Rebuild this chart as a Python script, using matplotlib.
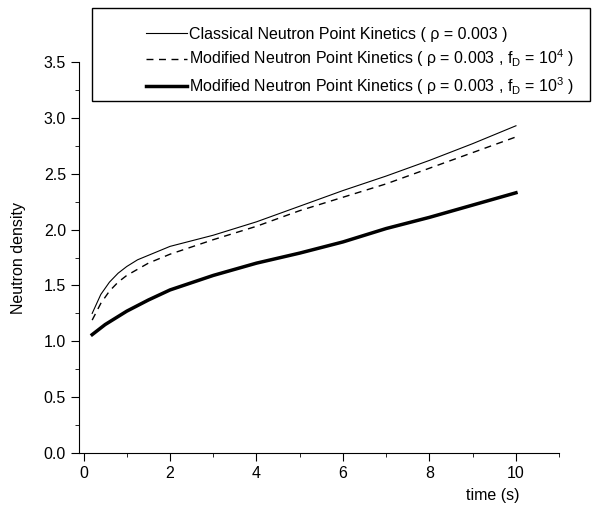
import matplotlib.pyplot as plt
from matplotlib.patches import Rectangle
from matplotlib.ticker import MultipleLocator

plt.rcParams['font.family'] = ['Liberation Sans', 'DejaVu Sans']
plt.rcParams['mathtext.fontset'] = 'custom'
plt.rcParams['mathtext.rm'] = 'Liberation Sans'
plt.rcParams['mathtext.it'] = 'Liberation Sans:italic'

# values
t_classic = [0.2, 0.4, 0.6, 0.8, 1.0, 1.25, 1.5, 2, 3, 4, 5, 6, 7, 8, 9, 10]
n_classic = [1.25, 1.42, 1.53, 1.61, 1.67, 1.73, 1.77, 1.85, 1.95, 2.07, 2.21, 2.35, 2.48, 2.62, 2.77, 2.93]

t_fd4 = [0.2, 0.4, 0.6, 0.8, 1.0, 1.5, 2, 3, 4, 5, 6, 7, 8, 9, 10]
n_fd4 = [1.19, 1.34, 1.45, 1.53, 1.59, 1.70, 1.78, 1.91, 2.03, 2.17, 2.29, 2.41, 2.55, 2.69, 2.83]

t_fd3 = [0.2, 0.5, 1.0, 1.5, 2, 3, 4, 5, 6, 7, 8, 9, 10]
n_fd3 = [1.06, 1.15, 1.27, 1.37, 1.46, 1.59, 1.70, 1.79, 1.89, 2.01, 2.11, 2.22, 2.33]

labels = [
    'Classical Neutron Point Kinetics ( \u03c1 = 0.003 )',
    'Modified Neutron Point Kinetics ( \u03c1 = 0.003 , f$_\\mathrm{D}$ = 10$^\\mathrm{4}$ )',
    'Modified Neutron Point Kinetics ( \u03c1 = 0.003 , f$_\\mathrm{D}$ = 10$^\\mathrm{3}$ )',
]

fs = 11.5

fig = plt.figure(figsize=(6, 5.07), dpi=100)
ax = fig.add_axes([0.132, 0.1065, 0.8, 0.771])

l1, = ax.plot(t_classic, n_classic, '-', color='black', lw=0.8)
l2, = ax.plot(t_fd4, n_fd4, '--', color='black', lw=1.0, dashes=(5, 4))
l3, = ax.plot(t_fd3, n_fd3, '-', color='black', lw=2.5)

ax.set_xlim(-0.1, 11)
ax.set_ylim(0, 3.5)
ax.xaxis.set_major_locator(MultipleLocator(2))
ax.xaxis.set_minor_locator(MultipleLocator(1))
ax.yaxis.set_major_locator(MultipleLocator(0.5))
ax.yaxis.set_minor_locator(MultipleLocator(0.25))
ax.yaxis.set_major_formatter(plt.FormatStrFormatter('%.1f'))
ax.spines['top'].set_visible(False)
ax.spines['right'].set_visible(False)
ax.tick_params(which='major', direction='out', length=6, labelsize=fs)
ax.tick_params(which='minor', direction='out', length=3)

ax.set_ylabel('Neutron density', fontsize=fs)
ax.yaxis.set_label_coords(-0.11, 0.5)
ax.set_xlabel('time (s)', fontsize=fs)
ax.xaxis.set_label_coords(0.862, -0.09)

fig.add_artist(Rectangle((0.153, 0.801), 0.83, 0.183, transform=fig.transFigure,
                         fill=False, edgecolor='black', lw=1.0))
fig.legend([l1, l2, l3], labels, loc='center', bbox_to_anchor=(0.6, 0.878),
           frameon=False, fontsize=fs, handlelength=2.6, handletextpad=0.1,
           labelspacing=0.35)

fig.savefig('out.png', dpi=100)
